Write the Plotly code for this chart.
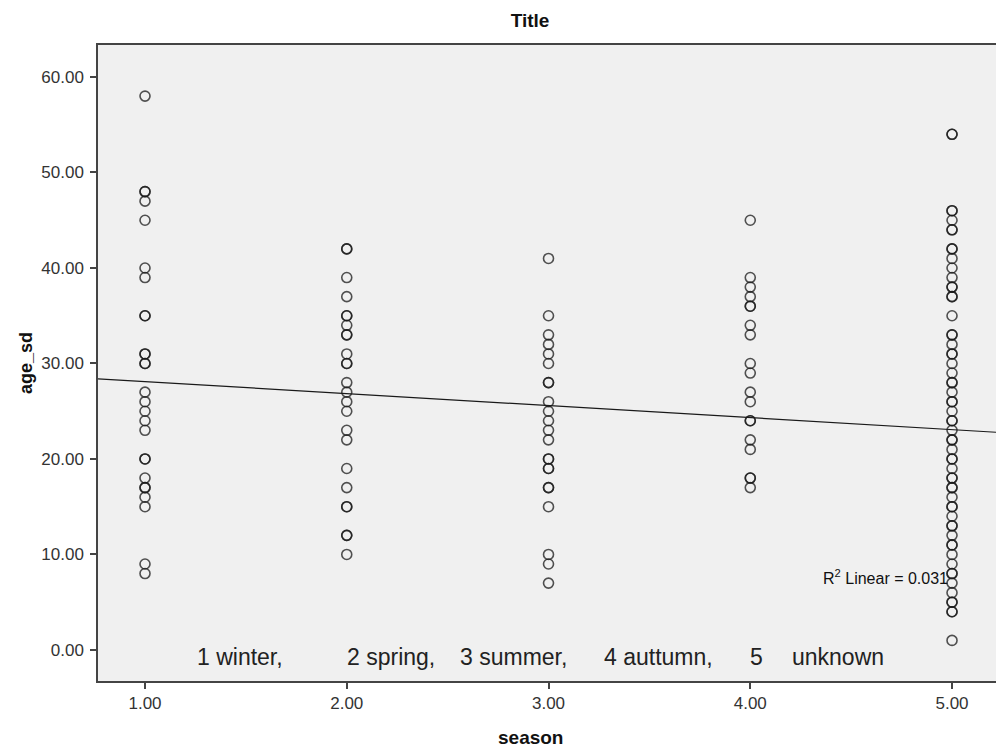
import plotly.graph_objects as go

# ---- data ----
SEASONS = [1.0, 2.0, 3.0, 4.0, 5.0]
AGE_SD_SEASON_1 = [58, 48, 48, 47, 45, 40, 39, 35, 35, 31, 31, 30, 30, 27, 26, 25, 24, 23,
                   20, 20, 18, 17, 17, 16, 15, 9, 8]
AGE_SD_SEASON_2 = [42, 42, 39, 37, 35, 35, 34, 33, 33, 31, 30, 30, 28, 27, 26, 25, 23, 22,
                   19, 17, 15, 15, 12, 12, 10]
AGE_SD_SEASON_3 = [41, 35, 33, 32, 31, 30, 28, 28, 26, 25, 24, 23, 22, 20, 20, 19, 19, 17,
                   17, 15, 10, 9, 7]
AGE_SD_SEASON_4 = [45, 39, 38, 37, 36, 36, 34, 33, 30, 29, 27, 26, 24, 24, 22, 21, 18, 18, 17]
AGE_SD_SEASON_5 = [54, 54, 46, 46, 45, 44, 44, 42, 42, 41, 40, 39, 38, 38, 37, 37, 35, 33, 33,
                   32, 31, 31, 30, 29, 28, 28, 27, 26, 26, 25, 24, 24, 23, 22, 22, 21, 20, 20,
                   19, 18, 18, 17, 17, 16, 15, 15, 14, 13, 13, 12, 11, 11, 10, 9, 8, 8, 7, 6,
                   5, 5, 4, 4, 1]
FIT_INTERCEPT = 29.36
FIT_SLOPE = -1.258
R2_TEXT = "R<sup>2</sup> Linear = 0.031"
SEASON_LABELS = ["1 winter,", "2 spring,", "3 summer,", "4 auttumn,", "5", "unknown"]
SEASON_LABEL_X = [1.248, 1.992, 2.552, 3.266, 3.990, 4.198]
TITLE = "Title"
X_TITLE = "season"
Y_TITLE = "age_sd"

X_RANGE = [0.767, 5.218]
Y_RANGE = [-3.25, 63.35]
Y_TICKS = [0, 10, 20, 30, 40, 50, 60]
X_TICKS = [1, 2, 3, 4, 5]

FONT = "Arial, Liberation Sans, sans-serif"
W, H = 996, 751
ML, MR, MT, MB = 98, 0, 45, 70

xs, ys = [], []
for s, vals in zip(SEASONS, [AGE_SD_SEASON_1, AGE_SD_SEASON_2, AGE_SD_SEASON_3,
                             AGE_SD_SEASON_4, AGE_SD_SEASON_5]):
    xs += [s] * len(vals)
    ys += vals

fig = go.Figure()
fig.add_trace(go.Scatter(
    x=xs, y=ys, mode="markers",
    marker=dict(symbol="circle", size=10, color="rgba(0,0,0,0)",
                line=dict(color="rgba(25,25,25,0.75)", width=1.6)),
    showlegend=False, hoverinfo="x+y"))

fig.add_trace(go.Scatter(
    x=X_RANGE, y=[FIT_INTERCEPT + FIT_SLOPE * X_RANGE[0], FIT_INTERCEPT + FIT_SLOPE * X_RANGE[1]],
    mode="lines", line=dict(color="#1a1a1a", width=1.2), showlegend=False, hoverinfo="skip"))

annotations = []
for lbl, xp in zip(SEASON_LABELS, SEASON_LABEL_X):
    annotations.append(dict(text=lbl, x=xp, y=-0.75, xref="x", yref="y", xanchor="left",
                            yanchor="middle", showarrow=False,
                            font=dict(family=FONT, size=23, color="#222")))
annotations.append(dict(text=R2_TEXT, x=4.99, y=7.6, xref="x", yref="y", xanchor="right",
                        yanchor="middle", showarrow=False,
                        font=dict(family=FONT, size=16, color="#111")))
# x-axis title (centred like the reference, left of the plot-area centre)
annotations.append(dict(text=f"<b>{X_TITLE}</b>",
                        x=(530 - ML) / (W - ML - MR),
                        y=-(737 - (H - MB)) / (H - MT - MB),
                        xref="paper", yref="paper", xanchor="center", yanchor="middle",
                        showarrow=False, font=dict(family=FONT, size=19, color="#111")))

fig.update_layout(
    width=W, height=H,
    margin=dict(l=ML, r=MR, t=MT, b=MB),
    paper_bgcolor="white", plot_bgcolor="#f0f0f0",
    font=dict(family=FONT, size=17, color="#333"),
    title=dict(text=f"<b>{TITLE}</b>", x=530 / W, xanchor="center", y=1 - 20 / H,
               yanchor="middle", font=dict(family=FONT, size=19, color="#111")),
    annotations=annotations,
    xaxis=dict(range=X_RANGE, tickvals=X_TICKS, ticktext=[f"{v:.2f}" for v in X_TICKS],
               showgrid=False, zeroline=False, showline=True, linecolor="#444", linewidth=1.5,
               mirror=True, ticks="outside", ticklen=6, tickcolor="#444", tickwidth=1.5,
               tickfont=dict(family=FONT, size=17, color="#333")),
    yaxis=dict(range=Y_RANGE, tickvals=Y_TICKS, ticktext=[f"{v:.2f}" for v in Y_TICKS],
               showgrid=False, zeroline=False, showline=True, linecolor="#444", linewidth=1.5,
               ticks="outside", ticklen=6, tickcolor="#444", tickwidth=1.5,
               ticklabelstandoff=3,
               tickfont=dict(family=FONT, size=17, color="#333"),
               title=dict(text=f"<b>{Y_TITLE}</b>", standoff=4,
                          font=dict(family=FONT, size=18, color="#111"))),
)

fig.write_html("out.html")
